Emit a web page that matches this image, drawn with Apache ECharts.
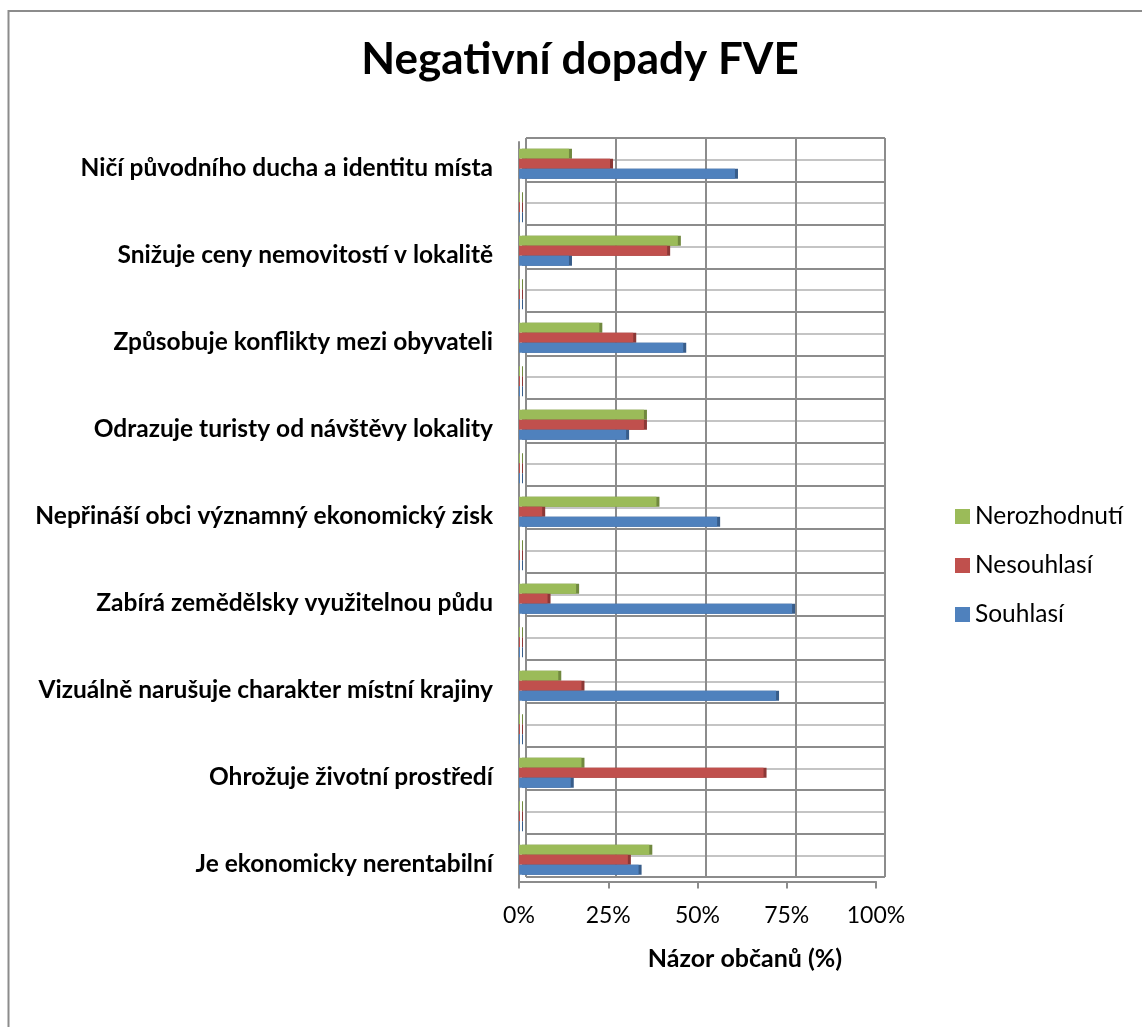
<!DOCTYPE html>
<html>
<head>
<meta charset="utf-8">
<script src="https://cdn.jsdelivr.net/npm/echarts@6/dist/echarts.min.js"></script>
<style>
html,body{margin:0;padding:0;background:#fff;}
#chart{width:1142px;height:1027px;}
</style>
</head>
<body>
<div id="chart"></div>
<script>
// Categories top-to-bottom (empty rows are unlabeled categories in the source chart)
var categories = [
  'Ničí původního ducha a identitu místa', '',
  'Snižuje ceny nemovitostí v lokalitě', '',
  'Způsobuje konflikty mezi obyvateli', '',
  'Odrazuje turisty od návštěvy lokality', '',
  'Nepřináší obci významný ekonomický zisk', '',
  'Zabírá zemědělsky využitelnou půdu', '',
  'Vizuálně narušuje charakter místní krajiny', '',
  'Ohrožuje životní prostředí', '',
  'Je ekonomicky nerentabilní'
];
var nerozhodnuti = [14, 0, 44.5, 0, 22.5, 0, 35, 0, 38.5, 0, 16, 0, 11, 0, 17.5, 0, 36.5];
var nesouhlasi   = [25.5, 0, 41.5, 0, 32, 0, 35, 0, 6.5, 0, 8, 0, 17.5, 0, 68.5, 0, 30.5];
var souhlasi     = [60.5, 0, 14, 0, 46, 0, 30, 0, 55.5, 0, 76.5, 0, 72, 0, 14.5, 0, 33.5];
var xTicks = [0, 25, 50, 75, 100];
var seriesNames = ['Nerozhodnutí', 'Nesouhlasí', 'Souhlasí'];
var titleText = 'Negativní dopady FVE';
var axisTitle = 'Názor občanů (%)';

var FONT = 'Lato';
var colors = ['#9bbb59', '#c0504d', '#4f81bd'];
var sideColors = ['#71893f', '#8c3836', '#385d8a'];
var values = [nerozhodnuti, nesouhlasi, souhlasi];

var chart = echarts.init(document.getElementById('chart'), null, {renderer: 'canvas'});

var series = seriesNames.map(function (name, i) {
  return {
    name: name,
    type: 'bar',
    xAxisIndex: 0,
    yAxisIndex: 0,
    data: values[i],
    barGap: '0%',
    barCategoryGap: '31%',
    barMinHeight: 1,
    itemStyle: {
      color: colors[i],
      shadowColor: sideColors[i],
      shadowOffsetX: 3,
      shadowOffsetY: 0,
      shadowBlur: 0
    },
    emphasis: {disabled: true},
    z: 5
  };
});

var option = {
  animation: false,
  backgroundColor: '#ffffff',
  textStyle: {fontFamily: FONT},
  graphic: [{
    type: 'rect',
    shape: {x: 8.5, y: 11, width: 1300, height: 1200},
    style: {fill: 'none', stroke: '#8c8c8c', lineWidth: 2},
    silent: true,
    z: 0
  }],
  title: [{
    text: titleText,
    left: 580,
    top: 38,
    textAlign: 'center',
    padding: 0,
    textStyle: {fontFamily: FONT, fontSize: 44, fontWeight: 'bold', color: '#000', lineHeight: 44}
  }, {
    text: axisTitle,
    left: 745,
    top: 946,
    textAlign: 'center',
    padding: 0,
    textStyle: {fontFamily: FONT, fontSize: 25, fontWeight: 'bold', color: '#000', lineHeight: 25}
  }],
  legend: {
    orient: 'vertical',
    left: 955,
    top: 504,
    padding: 0,
    itemWidth: 15,
    itemHeight: 15,
    itemGap: 24,
    icon: 'rect',
    data: seriesNames,
    selectedMode: false,
    textStyle: {fontFamily: FONT, fontSize: 24.5, color: '#000', lineHeight: 24}
  },
  grid: [
    {left: 519, width: 357, top: 142, height: 739.5, containLabel: false},
    {left: 526, width: 359, top: 138, height: 739, containLabel: false}
  ],
  xAxis: [{
    type: 'value',
    gridIndex: 0,
    min: 0, max: 100, interval: 25,
    axisLine: {show: true, lineStyle: {color: '#8c8c8c', width: 2}},
    axisTick: {show: true, length: 7, lineStyle: {color: '#8c8c8c', width: 2}},
    axisLabel: {formatter: '{value}%', fontFamily: FONT, fontSize: 23, color: '#000', margin: 23},
    splitLine: {show: false}
  }, {
    type: 'value',
    gridIndex: 1,
    min: 0, max: 100, interval: 25,
    axisLine: {show: false},
    axisTick: {show: false},
    axisLabel: {show: false},
    splitLine: {show: true, lineStyle: {color: '#8c8c8c', width: 2}}
  }],
  yAxis: [{
    type: 'category',
    gridIndex: 0,
    inverse: true,
    data: categories,
    axisLine: {show: true, lineStyle: {color: '#8c8c8c', width: 2}},
    axisTick: {show: false},
    axisLabel: {fontFamily: FONT, fontSize: 24.5, fontWeight: 'bold', color: '#000', margin: 26, interval: 0, verticalAlign: 'top', lineHeight: 8},
    splitLine: {show: false}
  }, {
    type: 'value',
    gridIndex: 1,
    min: 0, max: 34, interval: 1,
    axisLine: {show: false},
    axisTick: {show: false},
    axisLabel: {show: false},
    splitLine: {show: true, lineStyle: {color: ['#8c8c8c', '#c4c4c4'], width: 2}}
  }],
  series: series
};

chart.setOption(option);
</script>
</body>
</html>
